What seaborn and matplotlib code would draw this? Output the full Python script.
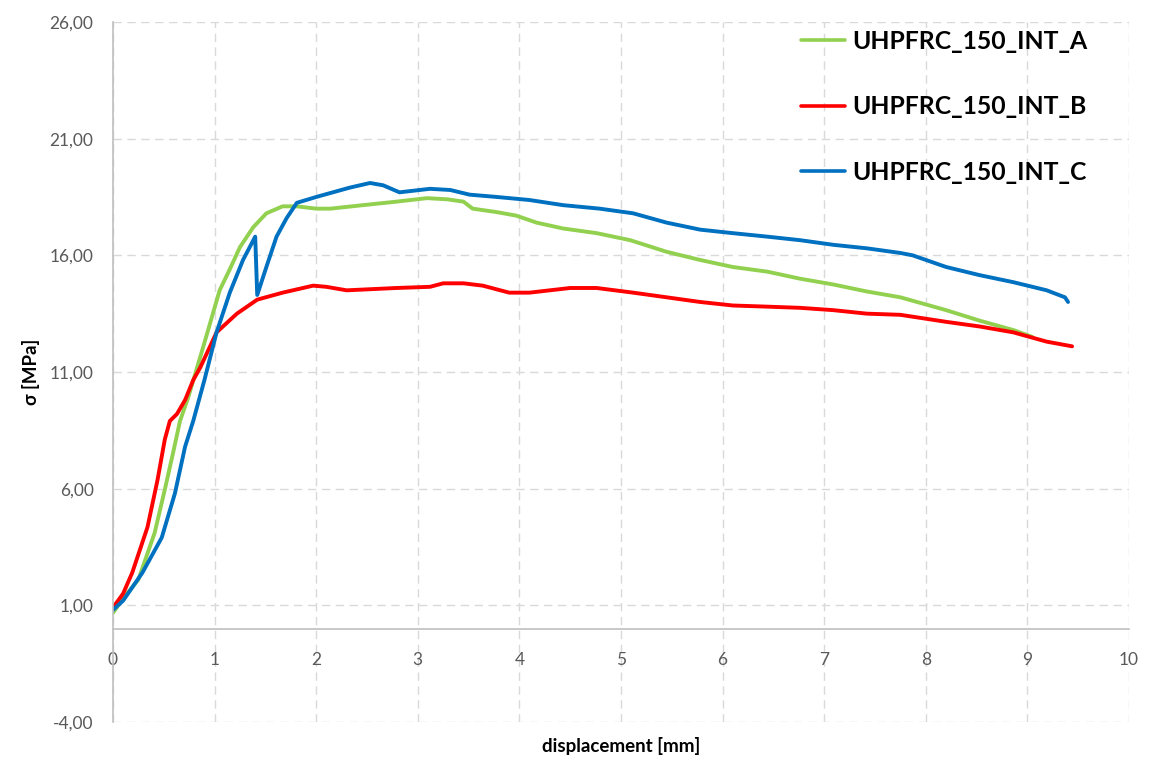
import matplotlib
matplotlib.use("Agg")
import matplotlib.pyplot as plt
import seaborn as sns
import pandas as pd
import numpy as np

# ---- data ----
series_names = ["UHPFRC_150_INT_A", "UHPFRC_150_INT_B", "UHPFRC_150_INT_C"]

a_x = [0, 0.1, 0.25, 0.41, 0.51, 0.59, 0.66, 0.74, 0.89, 1.05, 1.15, 1.25, 1.38, 1.51, 1.67, 1.81, 2.0,
       2.14, 2.46, 2.79, 3.09, 3.29, 3.45, 3.54, 3.78, 3.97, 4.17, 4.43, 4.76, 5.09, 5.45, 5.78, 6.1,
       6.44, 6.76, 7.09, 7.42, 7.75, 8.2, 8.53, 8.86, 9.05]
a_y = [0.67, 1.3, 2.1, 4.1, 5.95, 7.5, 8.9, 9.9, 12.1, 14.5, 15.4, 16.35, 17.2, 17.8, 18.1, 18.1, 18.0,
       18.0, 18.15, 18.3, 18.45, 18.4, 18.3, 18.0, 17.85, 17.7, 17.4, 17.15, 16.95, 16.65, 16.15, 15.8, 15.5,
       15.3, 15.0, 14.75, 14.45, 14.2, 13.65, 13.2, 12.8, 12.5]

b_x = [0, 0.1, 0.19, 0.34, 0.44, 0.51, 0.56, 0.63, 0.71, 0.79, 0.86, 1.02, 1.22, 1.42, 1.67, 1.97, 2.1,
       2.3, 2.79, 3.12, 3.25, 3.45, 3.64, 3.9, 4.1, 4.5, 4.76, 5.12, 5.45, 5.78, 6.1, 6.44, 6.76, 7.09,
       7.42, 7.75, 8.2, 8.53, 8.86, 9.19, 9.44]
b_y = [0.9, 1.5, 2.4, 4.35, 6.4, 8.1, 8.9, 9.2, 9.8, 10.65, 11.2, 12.7, 13.5, 14.1, 14.4, 14.7, 14.65,
       14.5, 14.6, 14.65, 14.8, 14.8, 14.7, 14.4, 14.4, 14.6, 14.6, 14.4, 14.2, 14.0, 13.85, 13.8, 13.75, 13.65,
       13.5, 13.45, 13.15, 12.95, 12.7, 12.3, 12.1]

c_x = [0, 0.1, 0.29, 0.48, 0.61, 0.71, 0.79, 0.9, 1.02, 1.15, 1.28, 1.40, 1.42, 1.51, 1.61, 1.71, 1.81,
       2.0, 2.14, 2.33, 2.53, 2.66, 2.82, 3.12, 3.32, 3.51, 3.78, 4.1, 4.43, 4.79, 5.12, 5.45, 5.78, 6.1,
       6.44, 6.76, 7.09, 7.42, 7.75, 7.87, 8.2, 8.53, 8.86, 9.19, 9.37, 9.4]
c_y = [0.8, 1.2, 2.4, 3.9, 5.8, 7.8, 8.9, 10.65, 12.7, 14.4, 15.8, 16.8, 14.3, 15.5, 16.8, 17.6, 18.25,
       18.5, 18.67, 18.9, 19.1, 19.0, 18.7, 18.85, 18.8, 18.6, 18.5, 18.37, 18.15, 18.0, 17.8, 17.4, 17.1, 16.95,
       16.8, 16.65, 16.45, 16.3, 16.1, 16.0, 15.5, 15.15, 14.85, 14.5, 14.2, 14.0]

y_ticks = [-4, 1, 6, 11, 16, 21, 26]
x_ticks = list(range(0, 11))
colors = ["#92D050", "#FF0000", "#0070C0"]

# ---- build dataframe ----
frames = []
for name, xs, ys in zip(series_names, [a_x, b_x, c_x], [a_y, b_y, c_y]):
    frames.append(pd.DataFrame({"x": xs, "y": ys, "series": name, "order": range(len(xs))}))
df = pd.concat(frames, ignore_index=True)

sns.set_theme(style="white")
plt.rcParams["font.family"] = ["Lato", "DejaVu Sans"]

fig = plt.figure(figsize=(11.49, 7.58), dpi=100)
ax = fig.add_axes([0.0983, 0.0475, 0.8843, 0.9235])

sns.lineplot(data=df, x="x", y="y", hue="series", hue_order=series_names,
             palette=colors, sort=False, estimator=None, linewidth=2.8, ax=ax, legend=False)

ax.set_xlim(0, 10)
ax.set_ylim(-4, 26)
ax.set_xticks(x_ticks)
ax.set_yticks(y_ticks)
ax.set_yticklabels([f"{v:.2f}".replace(".", ",") for v in y_ticks])
ax.grid(True, linestyle=(0, (6, 4)), color="#D9D9D9", linewidth=1.0)
ax.set_axisbelow(True)

for s in ["top", "right"]:
    ax.spines[s].set_visible(False)
ax.spines["left"].set_color("#BFBFBF")
ax.spines["left"].set_linewidth(1.2)
ax.spines["bottom"].set_position(("data", 0))
ax.spines["bottom"].set_color("#BFBFBF")
ax.spines["bottom"].set_linewidth(1.2)

ax.tick_params(axis="x", length=0, pad=17, labelsize=12.5, labelcolor="#595959")
ax.tick_params(axis="y", length=0, pad=14, labelsize=12.5, labelcolor="#595959")

ax.set_xlabel("displacement [mm]", fontsize=13.5, fontweight="bold", color="#000000", labelpad=0)
ax.xaxis.set_label_coords(0.5, -0.021)
ax.set_ylabel("σ [MPa]", fontsize=13.5, fontweight="bold", color="#000000",
              family=["Lato", "DejaVu Sans"])
ax.yaxis.set_label_coords(-0.072, 0.5)

handles = [plt.Line2D([0], [0], color=c, linewidth=2.6) for c in colors]
leg = ax.legend(handles, series_names, loc="upper left", bbox_to_anchor=(0.667, 1.003),
                frameon=False, prop={"size": 17.8, "weight": "bold"}, labelspacing=1.72,
                handlelength=1.8, handletextpad=0.28, borderaxespad=0.0)
for t in leg.get_texts():
    t.set_color("#000000")

fig.savefig("out.png", dpi=100, facecolor="white")
